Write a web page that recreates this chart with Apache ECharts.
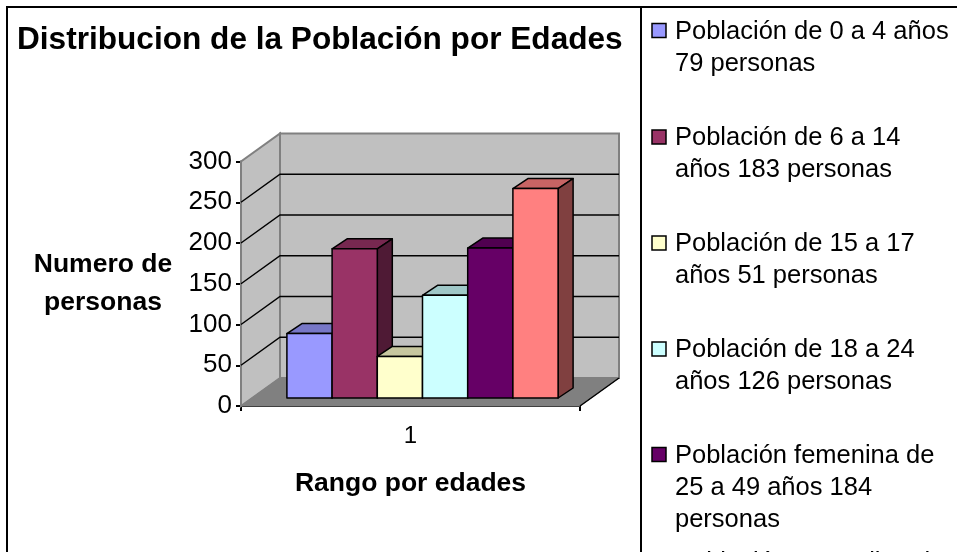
<!DOCTYPE html>
<html>
<head>
<meta charset="utf-8">
<style>
  html, body { margin: 0; padding: 0; background: #fff; overflow: hidden; }
  #chart { width: 957px; height: 552px; }
</style>
<script src="https://cdn.jsdelivr.net/npm/echarts@6/dist/echarts.min.js"></script>
</head>
<body>
<div id="chart"></div>
<script>
const categorias = ['1'];
const etiquetas = [
  'Población de 0 a 4 años\n79 personas',
  'Población de 6 a 14\naños 183 personas',
  'Población de 15 a 17\naños 51 personas',
  'Población de 18 a 24\naños 126 personas',
  'Población femenina de\n25 a 49 años 184\npersonas',
  'Población Masculina de'
];
const valores = [79, 183, 51, 126, 184, 257];
const coloresFrente = ['#9999ff', '#993366', '#ffffcc', '#ccffff', '#660066', '#ff8080'];
const coloresTecho = ['#7777c7', '#772850', '#c7c79f', '#9fc7c7', '#500050', '#c76464'];
const coloresLado = ['#555590', '#4f1a35', '#8f8f72', '#729090', '#390039', '#804040'];
const lineasGuia = [50, 100, 150, 200, 250];

const FONDO = [39, -28];    // profundidad de las paredes
const BASE = [12, -8];      // donde empieza la cara frontal de las barras
const PROF = [15, -10];     // profundidad de cada barra
const FUENTE = '"Liberation Sans", Arial, sans-serif';
const LEYENDA_Y = [30.5, 137, 243, 349, 454.5, 562];

const myChart = echarts.init(document.getElementById('chart'));

// paredes, piso y lineas de guia
function renderFondo(params, api) {
  const band = api.size([1, 0])[0];
  const c0 = api.coord([0, 0]);
  const c300 = api.coord([0, 300]);
  const x0 = c0[0] - band / 2;
  const x1 = c0[0] + band / 2;
  const bx0 = x0 + FONDO[0];
  const bx1 = x1 + FONDO[0];
  const y0 = c0[1];
  const yT = c300[1];
  const gris = { fill: '#c0c0c0', stroke: '#808080', lineWidth: 2 };
  const children = [
    { type: 'polygon', shape: { points: [[x0, y0], [bx0, y0 + FONDO[1]], [bx0, yT + FONDO[1]], [x0, yT]] }, style: gris },
    { type: 'polygon', shape: { points: [[bx0, y0 + FONDO[1]], [bx1, y0 + FONDO[1]], [bx1, yT + FONDO[1]], [bx0, yT + FONDO[1]]] }, style: gris },
    { type: 'polygon', shape: { points: [[x0, y0], [bx0, y0 + FONDO[1]], [bx1, y0 + FONDO[1]], [x1, y0]] }, style: { fill: '#808080', stroke: '#808080', lineWidth: 1 } },
    { type: 'line', shape: { x1: x1, y1: y0, x2: bx1, y2: y0 + FONDO[1] }, style: { stroke: '#000', lineWidth: 1.5 } }
  ];
  lineasGuia.forEach(function (v) {
    const y = api.coord([0, v])[1];
    children.push({
      type: 'polyline',
      shape: { points: [[x0, y], [bx0, y + FONDO[1]], [bx1, y + FONDO[1]]] },
      style: { fill: null, stroke: '#000', lineWidth: 1.5 }
    });
  });
  return { type: 'group', children: children };
}

// barra con cara frontal, techo y lado
function renderBarra(params, api) {
  const i = params.seriesIndex - 1;
  const band = api.size([1, 0])[0];
  const w = band / 7.5;
  const c = api.coord([api.value(0), api.value(1)]);
  const c0 = api.coord([api.value(0), 0]);
  const x = c[0] - band / 2 + w * 0.75 + i * w + BASE[0];
  const xr = x + w;
  const yt = c[1] + BASE[1];
  const yb = c0[1] + BASE[1];
  const borde = { stroke: '#000', lineWidth: 1.5, lineJoin: 'round' };
  return {
    type: 'group',
    children: [
      { type: 'polygon', shape: { points: [[x, yt], [x + PROF[0], yt + PROF[1]], [xr + PROF[0], yt + PROF[1]], [xr, yt]] }, style: Object.assign({ fill: coloresTecho[i] }, borde) },
      { type: 'polygon', shape: { points: [[xr, yt], [xr + PROF[0], yt + PROF[1]], [xr + PROF[0], yb + PROF[1]], [xr, yb]] }, style: Object.assign({ fill: coloresLado[i] }, borde) },
      { type: 'rect', shape: { x: x, y: yt, width: w, height: yb - yt }, style: Object.assign({ fill: coloresFrente[i] }, borde) }
    ]
  };
}

const series = [{ type: 'custom', renderItem: renderFondo, data: [[0, 300]], silent: true, z: 1 }];
valores.forEach(function (v, i) {
  series.push({ type: 'custom', name: etiquetas[i], renderItem: renderBarra, data: [[0, v]], silent: true, z: 2 });
});

// leyenda: cada entrada ocupa el mismo alto, como en el original
const graficos = [
  { type: 'polyline', shape: { points: [[7, 552], [7, 7], [957, 7]] }, style: { fill: null, stroke: '#000', lineWidth: 2 } },
  { type: 'line', shape: { x1: 641, y1: 7, x2: 641, y2: 552 }, style: { stroke: '#000', lineWidth: 2 } }
];
etiquetas.forEach(function (txt, i) {
  const y = LEYENDA_Y[i];
  graficos.push({ type: 'rect', shape: { x: 652, y: y - 7, width: 14, height: 14 }, style: { fill: coloresFrente[i], stroke: '#000', lineWidth: 1.5 } });
  graficos.push({
    type: 'text', x: 675, y: y - 15,
    style: { text: txt, font: '25.5px ' + FUENTE, fill: '#000', lineHeight: 32, verticalAlign: 'top' }
  });
});

myChart.setOption({
  animation: false,
  backgroundColor: '#fff',
  title: {
    text: 'Distribucion de la Población por Edades',
    left: 12,
    top: 19,
    textStyle: { fontFamily: FUENTE, fontSize: 31.6, fontWeight: 'bold', color: '#000' }
  },
  grid: { left: 241, top: 161.5, width: 339, height: 244.5, outerBoundsMode: 'none' },
  xAxis: {
    type: 'category',
    data: categorias,
    name: 'Rango por edades',
    nameLocation: 'middle',
    nameGap: 64,
    nameTextStyle: { fontFamily: FUENTE, fontSize: 26.5, fontWeight: 'bold', color: '#000' },
    axisLine: { lineStyle: { color: '#000', width: 2 } },
    axisTick: { show: true, alignWithLabel: false, length: 5, lineStyle: { color: '#000', width: 2 } },
    axisLabel: { fontFamily: FUENTE, fontSize: 24, color: '#000', margin: 18 }
  },
  yAxis: {
    type: 'value',
    min: 0,
    max: 300,
    interval: 50,
    name: 'Numero de\npersonas',
    nameLocation: 'middle',
    nameRotate: 0,
    nameGap: 138,
    nameTextStyle: { fontFamily: FUENTE, fontSize: 26.5, fontWeight: 'bold', color: '#000', lineHeight: 38, align: 'center' },
    axisLine: { show: true, lineStyle: { color: '#000', width: 2 } },
    axisTick: { show: true, length: 5, lineStyle: { color: '#000', width: 2 } },
    axisLabel: { fontFamily: FUENTE, fontSize: 26, color: '#000', margin: 9, padding: [3, 0, 0, 0] },
    splitLine: { show: false }
  },
  graphic: graficos,
  series: series
});
</script>
</body>
</html>
